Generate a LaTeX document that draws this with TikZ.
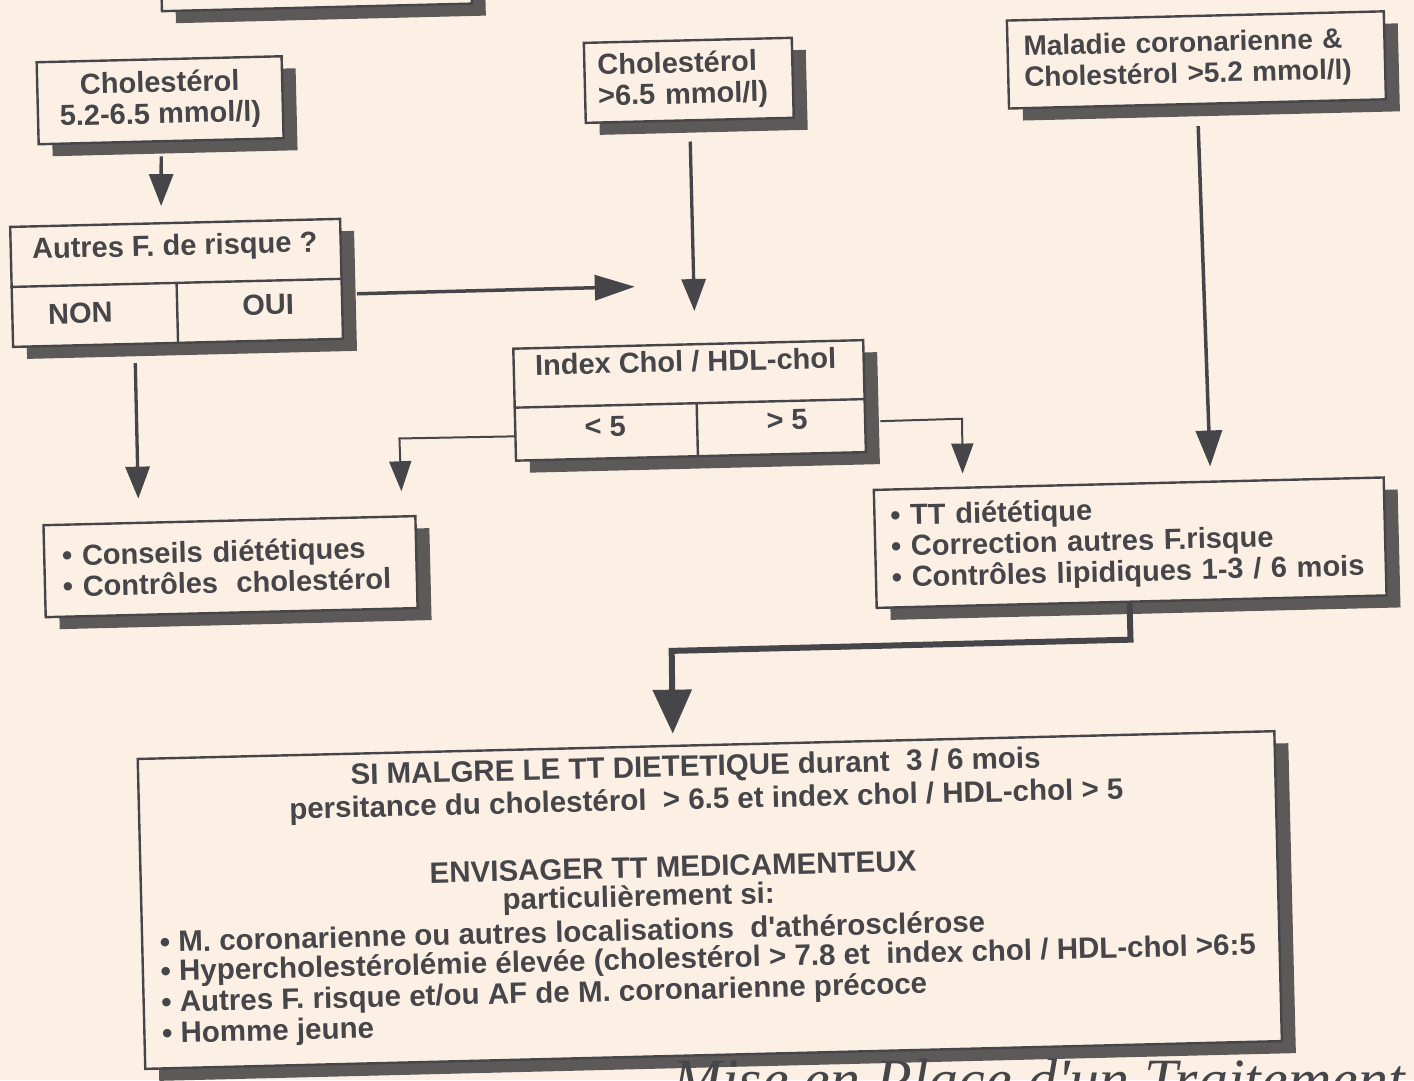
\documentclass[tikz,border=0pt]{standalone}
\usepackage{fontspec}
\setmainfont{Liberation Sans}
\newfontfamily\notesans{Liberation Sans}
\newfontfamily\handfont{Liberation Serif}
\usetikzlibrary{arrows.meta,shadows,calc}

\definecolor{paper}{RGB}{252,240,229}
\definecolor{ink}{RGB}{70,70,74}
\definecolor{shade}{RGB}{92,89,88}

\tikzset{
  flowbox/.style={draw=ink, line width=2.4pt, fill=paper, text=ink, inner sep=0pt,
    font=\fontsize{29}{31}\selectfont\bfseries,
    drop shadow={shadow xshift=14pt, shadow yshift=-12pt, fill=shade, opacity=1}},
  divider/.style={draw=ink, line width=2.4pt},
  lbl/.style={text=ink, inner sep=0pt, font=\fontsize{29}{31}\selectfont\bfseries},
  note/.style={text=ink, inner sep=0pt, font=\notesans\fontsize{29.5}{33}\selectfont\bfseries},
  link/.style={draw=ink, line width=3.3pt, -{Triangle[length=32pt,width=24pt]}},
  thinlink/.style={draw=ink, line width=2pt, -{Triangle[length=30pt,width=22pt]}},
  biglink/.style={draw=ink, line width=6pt, -{Triangle[length=44pt,width=38pt]}},
}

\begin{document}
\begin{tikzpicture}[x=1pt,y=1pt]
\useasboundingbox (0,0) rectangle (1414,-1080);
\fill[paper] (0,0) rectangle (1414,-1080);
\clip (0,0) rectangle (1414,-1080);

\begin{scope}[rotate around={1.4:(707,-540)}, transform shape]
  % boxes
  \node[flowbox, minimum width=310pt, minimum height=60pt] (head) at (330,32) {};
  \node[flowbox, minimum width=245pt, minimum height=82pt, align=center] (chol1) at (171,-87)
    {Cholestérol\\5.2-6.5 mmol/l)};
  \node[flowbox, minimum width=330pt, minimum height=120pt] (risk) at (183,-270) {};
  \draw[divider] (risk.west) -- (risk.east) (risk.center) -- (risk.south);
  \node[lbl] (riskq) at (182,-235) {Autres F. de risque ?};
  \node[lbl] (non) at (86,-298) {NON};
  \node[lbl] (oui) at (274,-294) {OUI};

  \node[flowbox, text width=182pt, inner xsep=13pt, minimum height=80pt, align=left] (chol2) at (700,-80)
    {Cholestérol\\>6.5 mmol/l)};

  \node[flowbox, text width=345pt, inner xsep=16pt, minimum height=88pt, align=left,
        font=\fontsize{28}{31}\selectfont\bfseries] (coro) at (1208,-72)
    {Maladie coronarienne \&\\Cholestérol >5.2 mmol/l)};

  \node[flowbox, minimum width=350pt, minimum height=112pt] (ratio) at (693,-400) {};
  \draw[divider] ([yshift=-3pt]ratio.west) -- ([yshift=-3pt]ratio.east)
                 ([xshift=7pt]ratio.south) -- ([xshift=7pt,yshift=-3pt]ratio.center);
  \node[lbl] (ratioq) at (690,-361) {Index Chol / HDL-chol};
  \node[lbl] (low) at (608,-424) {< 5};
  \node[lbl] (high) at (790,-422) {> 5};

  \node[flowbox, text width=336pt, inner xsep=18pt, minimum height=92pt, align=left] (advice) at (230,-555)
    {• Conseils diététiques\\• Contrôles\hspace{0.3em} cholestérol};

  \node[flowbox, text width=478pt, inner xsep=16pt, minimum height=118pt, align=left] (diet) at (1130,-553)
    {• TT diététique\\• Correction autres F.risque\\• Contrôles lipidiques 1-3 / 6 mois};

  \node[flowbox, minimum width=1137pt, minimum height=310pt] (drug) at (701,-900) {};
  \node[note] (n1) at (690,-768) {SI MALGRE LE TT DIETETIQUE durant\ \ 3 / 6 mois};
  \node[note] (n2) at (700,-801) {persitance du cholestérol\ \ > 6.5 et index chol / HDL-chol > 5};
  \node[note] (n3) at (665,-866) {ENVISAGER TT MEDICAMENTEUX};
  \node[note] (n4) at (630,-897) {particulièrement si:};
  \node[note, anchor=west] (n5) at (150,-928) {• M. coronarienne ou autres localisations\ \ d'athérosclérose};
  \node[note, anchor=west] (n6) at (150,-960) {• Hypercholestérolémie élevée (cholestérol > 7.8 et\ \ index chol / HDL-chol >6:5};
  \node[note, anchor=west] (n7) at (150,-991) {• Autres F. risque et/ou AF de M. coronarienne précoce};
  \node[note, anchor=west] (n8) at (150,-1022) {• Homme jeune};

  % bends and free ends of the connectors
  \coordinate (ouiEnd) at (641,-285);
  \coordinate (lowBend) at (402,-431);
  \coordinate (highBend) at (965,-425);
  \coordinate (dietDrop) at (1128,-650);
  \coordinate (drugBend) at (669,-650);

  % connectors
  \draw[link, shorten <=14pt, shorten >=16pt] (chol1.south) -- ($(risk.north west)!0.458!(risk.north east)$);
  \draw[link, line width=3.5pt, -{Triangle[length=40pt,width=25pt]}, shorten <=14pt]
    ($(risk.north east)!0.625!(risk.south east)$) -- (ouiEnd);
  \draw[link, shorten <=20pt, shorten >=32pt] (chol2.south) -- ($(ratio.north west)!0.52!(ratio.north east)$);
  \draw[link, shorten <=18pt, shorten >=23pt]
    ($(risk.south west)!0.37!(risk.south east)$) -- ($(advice.north west)!0.258!(advice.north east)$);
  \draw[thinlink, shorten >=24pt]
    ($(ratio.north west)!0.777!(ratio.south west)$) -- (lowBend) -- ($(advice.north west)!0.962!(advice.north east)$);
  \draw[thinlink, shorten <=14pt, shorten >=13pt]
    ($(ratio.north east)!0.723!(ratio.south east)$) -- (highBend) -- ($(diet.north west)!0.176!(diet.north east)$);
  \draw[link, line width=3.5pt, -{Triangle[length=36pt,width=26pt]}, shorten <=21pt, shorten >=14pt]
    (coro.south) -- ($(diet.north west)!0.66!(diet.north east)$);
  \draw[biglink, shorten >=11pt]
    ($(diet.south west)!0.496!(diet.south east)$) -- (dietDrop) -- (drugBend) -- ($(drug.north west)!0.471!(drug.north east)$);
\end{scope}

% handwritten caption under the last box, mostly below the page edge
\node[anchor=base east, text=ink, inner sep=0pt, font=\handfont\itshape\fontsize{60}{60}\selectfont] (caption)
  at (1405,-1100) {Mise en Place d'un Traitement};
\end{tikzpicture}
\end{document}
